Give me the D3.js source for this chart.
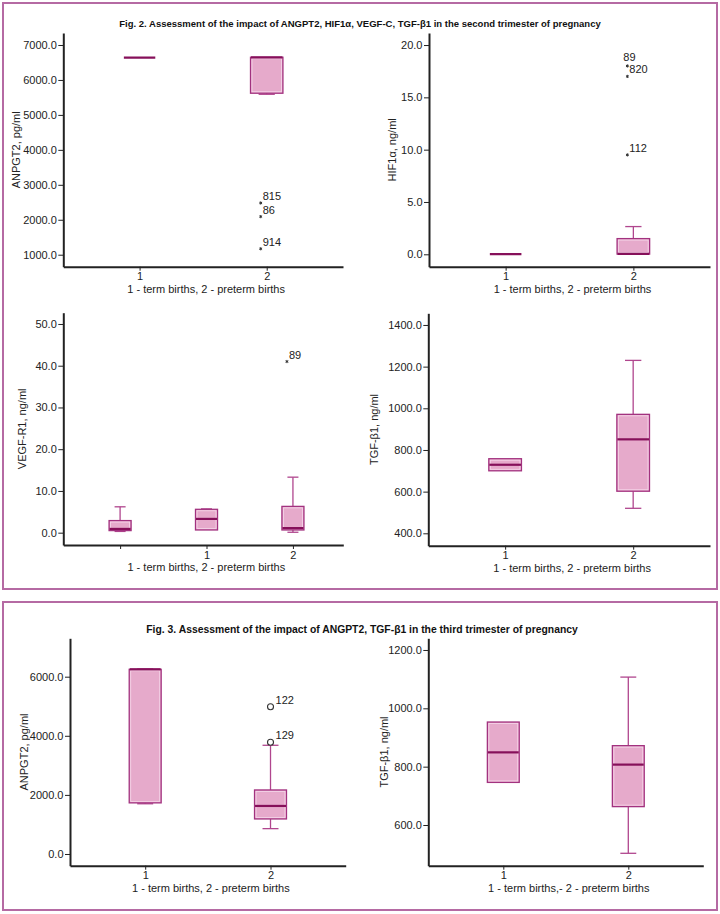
<!DOCTYPE html>
<html>
<head>
<meta charset="utf-8">
<script src="https://cdn.jsdelivr.net/npm/d3@7.9.0/dist/d3.min.js"></script>
<style>
  html, body { margin: 0; padding: 0; background: #fff; }
  svg { display: block; font-family: "Liberation Sans", Arial, sans-serif; }
  .tick text { font-size: 11px; fill: #222; }
  .axis path, .axis line { stroke: #222; }
  .title { font-family: "Liberation Sans Narrow", "Liberation Sans", Arial, sans-serif; font-weight: bold; font-size: 12.5px; fill: #111; }
  .axis-label { font-size: 11px; fill: #222; }
  .outlier-label { font-size: 11px; fill: #222; }
</style>
</head>
<body>
<div id="chart"></div>
<script>
const fig2Title = 'Fig. 2. Assessment of the impact of ANGPT2, HIF1\u03b1, VEGF-C, TGF-\u03b21 in the second trimester of pregnancy';
const fig3Title = 'Fig. 3. Assessment of the impact of ANGPT2, TGF-\u03b21 in the third trimester of pregnancy';
const groupsLabel = '1 - term births, 2 - preterm births';
const groupsLabelFig3Right = '1 - term births,- 2 - preterm births';

const twoGroups = ['1', '2'];
const threeGroups = ['', '1', '2'];

// box statistics
const angpt2Second = [
  { group: '1', min: 6640, q1: 6640, median: 6640, q3: 6640, max: 6640 },
  { group: '2', min: 5590, q1: 5620, median: 6645, q3: 6650, max: 6650 },
];
const angpt2SecondOutliers = [
  { group: '2', value: 2480, label: '815' },
  { group: '2', value: 2090, label: '86' },
  { group: '2', value: 1170, label: '914' },
];
const angpt2SecondTicks = [1000, 2000, 3000, 4000, 5000, 6000, 7000];

const hif1aSecond = [
  { group: '1', min: 0.02, q1: 0.02, median: 0.02, q3: 0.02, max: 0.02 },
  { group: '2', min: 0.0, q1: 0.02, median: 0.05, q3: 1.5, max: 2.65 },
];
const hif1aSecondOutliers = [
  { group: '2', value: 18.0, label: '89' },
  { group: '2', value: 17.0, label: '820' },
  { group: '2', value: 9.5, label: '112' },
];
const hif1aSecondTicks = [0, 5, 10, 15, 20];

const vegfr1Second = [
  { group: '', min: 0.3, q1: 0.5, median: 0.9, q3: 2.9, max: 6.2 },
  { group: '1', min: 0.65, q1: 0.65, median: 3.3, q3: 5.6, max: 5.7 },
  { group: '2', min: 0.1, q1: 0.65, median: 1.1, q3: 6.3, max: 13.3 },
];
const vegfr1SecondOutliers = [
  { group: '2', value: 41.0, label: '89' },
];
const vegfr1SecondTicks = [0, 10, 20, 30, 40, 50];

const tgfSecond = [
  { group: '1', min: 700, q1: 700, median: 729, q3: 758, max: 758 },
  { group: '2', min: 520, q1: 602, median: 851, q3: 971, max: 1230 },
];
const tgfSecondTicks = [400, 600, 800, 1000, 1200, 1400];

const angpt2Third = [
  { group: '1', min: 1700, q1: 1730, median: 6250, q3: 6250, max: 6260 },
  { group: '2', min: 858, q1: 1186, median: 1626, q3: 2167, max: 3679 },
];
const angpt2ThirdOutliers = [
  { group: '2', value: 4985, label: '122' },
  { group: '2', value: 3780, label: '129' },
];
const angpt2ThirdTicks = [0, 2000, 4000, 6000];

const tgfThird = [
  { group: '1', min: 746, q1: 746, median: 849, q3: 953, max: 953 },
  { group: '2', min: 503, q1: 663, median: 807, q3: 872, max: 1107 },
];
const tgfThirdTicks = [600, 800, 1000, 1200];

// layout of each plot (pixel boxes, not data)
const panels = [
  { boxes: angpt2Second, outliers: angpt2SecondOutliers, ticks: angpt2SecondTicks, groups: twoGroups,
    domain: [657, 7343], x0: 63.3, x1: 343, top: 33, bottom: 266.7, yLabel: 'ANPGT2, pg/ml', yLabelX: 17,
    xLabel: groupsLabel, marker: 'star' },
  { boxes: hif1aSecond, outliers: hif1aSecondOutliers, ticks: hif1aSecondTicks, groups: twoGroups,
    domain: [-1.185, 21.15], x0: 429, x1: 710, top: 33, bottom: 266.7, yLabel: 'HIF1\u03b1, ng/ml', yLabelX: 393.5,
    xLabel: groupsLabel, marker: 'star' },
  { boxes: vegfr1Second, outliers: vegfr1SecondOutliers, ticks: vegfr1SecondTicks, groups: threeGroups,
    domain: [-2.95, 52.7], x0: 63.3, x1: 343.3, top: 312.7, bottom: 545, yLabel: 'VEGF-R1, ng/ml', yLabelX: 23.5,
    xLabel: groupsLabel, marker: 'star', padding: 0.62, align: 0.53 },
  { boxes: tgfSecond, outliers: [], ticks: tgfSecondTicks, groups: twoGroups,
    domain: [340.5, 1456], x0: 428.3, x1: 710, top: 313.3, bottom: 545.7, yLabel: 'TGF-\u03b21, ng/ml', yLabelX: 375,
    xLabel: groupsLabel, marker: 'star' },
  { boxes: angpt2Third, outliers: angpt2ThirdOutliers, ticks: angpt2ThirdTicks, groups: twoGroups,
    domain: [-396, 7299], x0: 70, x1: 345.7, top: 638.3, bottom: 865.7, yLabel: 'ANPGT2, pg/ml', yLabelX: 25,
    xLabel: groupsLabel, marker: 'circle' },
  { boxes: tgfThird, outliers: [], ticks: tgfThirdTicks, groups: twoGroups,
    domain: [460.5, 1240], x0: 428.3, x1: 703.3, top: 638.3, bottom: 865.7, yLabel: 'TGF-\u03b21, ng/ml', yLabelX: 385,
    xLabel: groupsLabelFig3Right, marker: 'circle' },
];

// "89" on the HIF1a plot sits above its mark
const labelNudge = { 'HIF1\u03b1, ng/ml|89': [-4, -5] };

const colors = {
  frame: '#b56aa3',
  boxFill: '#e6aacb',
  boxStroke: '#a2327f',
  boxInner: '#f6d7ea',
  median: '#86105a',
  whisker: '#b0468e',
};

const width = 720;
const height = 914;

const svg = d3.select('#chart').append('svg')
  .attr('width', width)
  .attr('height', height)
  .attr('viewBox', `0 0 ${width} ${height}`);

svg.append('rect').attr('x', 3).attr('y', 3).attr('width', 714).attr('height', 586)
  .attr('fill', 'none').attr('stroke', colors.frame).attr('stroke-width', 2);
svg.append('rect').attr('x', 3).attr('y', 602).attr('width', 714).attr('height', 308)
  .attr('fill', 'none').attr('stroke', colors.frame).attr('stroke-width', 2);

// size each title so it spans the same width as in the figure
function addTitle(text, cx, baseline, targetWidth) {
  const t = svg.append('text').attr('class', 'title')
    .attr('x', cx).attr('y', baseline).attr('text-anchor', 'middle').text(text);
  const w = t.node().getComputedTextLength();
  if (w > 0) t.style('font-size', `${(12.5 * targetWidth / w).toFixed(2)}px`);
}
addTitle(fig2Title, 360, 27, 482);
addTitle(fig3Title, 362, 633, 432);

function drawPanel(p) {
  const g = svg.append('g');
  const x = d3.scalePoint().domain(p.groups).range([p.x0, p.x1])
    .padding(p.padding ?? 0.6).align(p.align ?? 0.5);
  const y = d3.scaleLinear().domain(p.domain).range([p.bottom, p.top]);
  const boxW = x.step() * 0.255;
  const capW = boxW * 0.5;

  g.append('g').attr('class', 'axis')
    .attr('transform', `translate(0,${p.bottom})`)
    .call(d3.axisBottom(x).tickSize(4).tickSizeOuter(0).tickPadding(2))
    .call((a) => a.select('.domain').attr('stroke-width', 2))
    .call((a) => a.selectAll('.tick line').attr('stroke-width', 1));

  g.append('g').attr('class', 'axis')
    .attr('transform', `translate(${p.x0},0)`)
    .call(d3.axisLeft(y).tickValues(p.ticks).tickFormat(d3.format('.1f')).tickSize(5).tickSizeOuter(0).tickPadding(1.5))
    .call((a) => a.select('.domain').attr('stroke-width', 2))
    .call((a) => a.selectAll('.tick line').attr('stroke-width', 1));

  g.append('text').attr('class', 'axis-label')
    .attr('transform', `translate(${p.yLabelX},${(p.top + p.bottom) / 2}) rotate(-90)`)
    .attr('text-anchor', 'middle').attr('dominant-baseline', 'middle')
    .text(p.yLabel);

  g.append('text').attr('class', 'axis-label')
    .attr('x', (p.x0 + p.x1) / 2 + 3).attr('y', p.bottom + 26)
    .attr('text-anchor', 'middle')
    .text(p.xLabel);

  const box = g.selectAll('g.box').data(p.boxes).join('g').attr('class', 'box');

  // whiskers
  box.filter((d) => d.max > d.q3).append('line')
    .attr('x1', (d) => x(d.group)).attr('x2', (d) => x(d.group))
    .attr('y1', (d) => y(d.q3)).attr('y2', (d) => y(d.max))
    .attr('stroke', colors.whisker).attr('stroke-width', 1.3);
  box.filter((d) => d.max > d.q3).append('line')
    .attr('x1', (d) => x(d.group) - capW / 2).attr('x2', (d) => x(d.group) + capW / 2)
    .attr('y1', (d) => y(d.max)).attr('y2', (d) => y(d.max))
    .attr('stroke', colors.whisker).attr('stroke-width', 1.3);
  box.filter((d) => d.min < d.q1).append('line')
    .attr('x1', (d) => x(d.group)).attr('x2', (d) => x(d.group))
    .attr('y1', (d) => y(d.q1)).attr('y2', (d) => y(d.min))
    .attr('stroke', colors.whisker).attr('stroke-width', 1.3);
  box.filter((d) => d.min < d.q1).append('line')
    .attr('x1', (d) => x(d.group) - capW / 2).attr('x2', (d) => x(d.group) + capW / 2)
    .attr('y1', (d) => y(d.min)).attr('y2', (d) => y(d.min))
    .attr('stroke', colors.whisker).attr('stroke-width', 1.3);

  box.append('rect')
    .attr('x', (d) => x(d.group) - boxW / 2)
    .attr('y', (d) => y(d.q3))
    .attr('width', boxW)
    .attr('height', (d) => Math.max(0, y(d.q1) - y(d.q3)))
    .attr('fill', colors.boxFill)
    .attr('stroke', colors.boxStroke)
    .attr('stroke-width', 1.3);

  box.filter((d) => y(d.q1) - y(d.q3) > 4).append('rect')
    .attr('x', (d) => x(d.group) - boxW / 2 + 1.5)
    .attr('y', (d) => y(d.q3) + 1.5)
    .attr('width', boxW - 3)
    .attr('height', (d) => y(d.q1) - y(d.q3) - 3)
    .attr('fill', 'none')
    .attr('stroke', colors.boxInner)
    .attr('stroke-width', 0.8);

  box.append('line')
    .attr('x1', (d) => x(d.group) - boxW / 2 + 0.5).attr('x2', (d) => x(d.group) + boxW / 2 - 0.5)
    .attr('y1', (d) => y(d.median)).attr('y2', (d) => y(d.median))
    .attr('stroke', colors.median).attr('stroke-width', 2.2);

  const out = g.selectAll('g.outlier').data(p.outliers).join('g').attr('class', 'outlier')
    .attr('transform', (d) => `translate(${x(d.group) - (p.marker === 'star' ? 6 : 0)},${y(d.value)})`);

  if (p.marker === 'circle') {
    out.append('circle').attr('r', 3).attr('fill', '#fff').attr('stroke', '#333').attr('stroke-width', 1.1);
  } else {
    out.append('path').attr('d', d3.symbol(d3.symbolAsterisk, 7)).attr('fill', 'none')
      .attr('stroke', '#333').attr('stroke-width', 1);
  }

  out.append('text').attr('class', 'outlier-label')
    .attr('x', (d) => (labelNudge[`${p.yLabel}|${d.label}`] || [p.marker === 'circle' ? 5 : 2, -3])[0])
    .attr('y', (d) => (labelNudge[`${p.yLabel}|${d.label}`] || [0, -3])[1])
    .text((d) => d.label);
}

panels.forEach(drawPanel);
</script>
</body>
</html>
